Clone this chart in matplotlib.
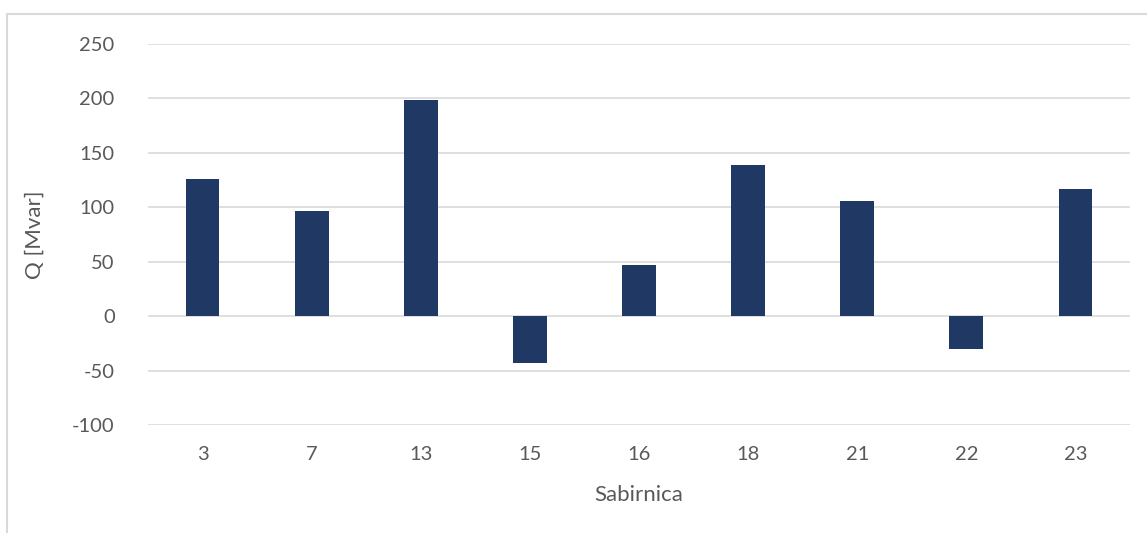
import numpy as np
import matplotlib.pyplot as plt
from matplotlib.patches import Rectangle

plt.rcParams['font.family'] = ['Lato', 'DejaVu Sans']
plt.rcParams['axes.unicode_minus'] = False

buses = ['3', '7', '13', '15', '16', '18', '21', '22', '23']
q_mvar = [126, 97, 199, -43, 47, 139, 106, -30, 117]

W, H = 1147, 533
fig = plt.figure(figsize=(W / 100, H / 100), dpi=100)
ax = fig.add_axes([148 / W, 1 - 425 / H, (1130 - 148) / W, (425 - 44) / H])

# outer chart border (only left and top visible in the reference)
fig.patches.append(Rectangle((7 / W, -0.1), 1.2, 1 - 14 / H + 0.1,
                             transform=fig.transFigure, fill=False,
                             edgecolor='#d9d9d9', linewidth=1.5))

x = np.arange(len(buses))
ax.bar(x, q_mvar, width=0.31, color='#1f3864', zorder=3)

ax.set_xlim(-0.5, len(buses) - 0.5)
ax.set_ylim(-100, 250)
ax.set_yticks(np.arange(-100, 251, 50))
ax.set_xticks(x)
ax.set_xticklabels(buses)
ax.grid(axis='y', color='#d9d9d9', linewidth=1.2, zorder=0)
for s in ax.spines.values():
    s.set_visible(False)
ax.tick_params(length=0, labelsize=14.5, colors='#595959')
ax.tick_params(axis='y', pad=24)
ax.tick_params(axis='x', pad=15)

ax.set_xlabel('Sabirnica', fontsize=16, color='#595959', labelpad=16)
ax.set_ylabel('Q [Mvar]', fontsize=16, color='#595959', labelpad=20)

fig.savefig('out.png', dpi=100)
